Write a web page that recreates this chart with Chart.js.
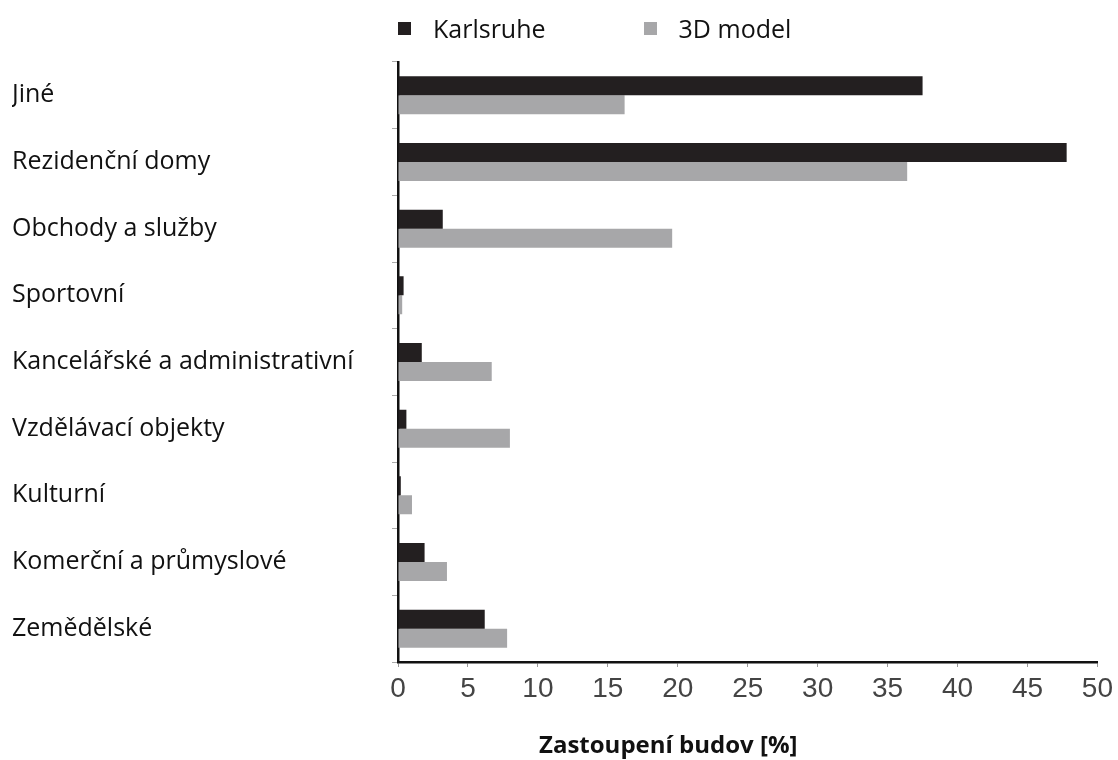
<!DOCTYPE html>
<html>
<head>
<meta charset="utf-8">
<script src="https://cdn.jsdelivr.net/npm/chart.js@4/dist/chart.umd.min.js"></script>
<style>
  body { margin: 0; background: #fff; }
  #wrap { position: relative; width: 1118px; height: 760px; }
  #legend { position: absolute; top: 11px; left: 398px; display: flex; font-family: "Open Sans", sans-serif; font-size: 25px; line-height: 34px; color: #111; }
  .item { display: flex; align-items: center; margin-right: 98px; }
  .box { width: 13px; height: 13px; margin-right: 22px; }
  #xtitle { position: absolute; top: 728px; left: 539px; font-family: "Open Sans", sans-serif; font-weight: bold; font-size: 24px; line-height: 32px; color: #111; }
</style>
</head>
<body>
<div id="wrap">
  <canvas id="chart" width="1118" height="760"></canvas>
  <div id="legend"></div>
  <div id="xtitle">Zastoupení budov [%]</div>
</div>
<script>
// kategorie (shora dolů)
const categories = ['Jiné', 'Rezidenční domy', 'Obchody a služby', 'Sportovní',
  'Kancelářské a administrativní', 'Vzdělávací objekty', 'Kulturní',
  'Komerční a průmyslové', 'Zemědělské'];

// hodnoty v %
const karlsruhe = [37.5, 47.8, 3.2, 0.4, 1.7, 0.6, 0.2, 1.9, 6.2];
const model3d   = [16.2, 36.4, 19.6, 0.3, 6.7, 8.0, 1.0, 3.5, 7.8];

const xTicks = [0, 5, 10, 15, 20, 25, 30, 35, 40, 45, 50];

const ctx = document.getElementById('chart').getContext('2d');
const chart = new Chart(ctx, {
  type: 'bar',
  data: {
    labels: categories,
    datasets: [
      { label: 'Karlsruhe', data: karlsruhe, backgroundColor: '#231f20' },
      { label: '3D model', data: model3d, backgroundColor: '#a7a7a9' }
    ]
  },
  options: {
    indexAxis: 'y',
    responsive: false,
    animation: false,
    layout: { padding: { left: 12, right: 18, top: 62, bottom: 0 } },
    datasets: { bar: { categoryPercentage: 0.57, barPercentage: 1.0 } },
    plugins: { legend: { display: false }, tooltip: { enabled: false } },
    scales: {
      y: {
        afterFit: (s) => { s.width = 386; },
        grid: { drawOnChartArea: false, tickLength: 6, color: '#aaaaaa' },
        border: { color: '#111', width: 2.5 },
        ticks: {
          crossAlign: 'far',
          color: '#111',
          font: { family: '"Open Sans", sans-serif', size: 25 }
        }
      },
      x: {
        min: 0,
        max: 50,
        afterFit: (s) => { s.height = 98; },
        afterBuildTicks: (s) => { s.ticks = xTicks.map(v => ({ value: v })); },
        grid: { drawOnChartArea: false, tickLength: 5, color: '#999' },
        border: { color: '#111', width: 2.5 },
        ticks: {
          color: '#444',
          padding: 5,
          font: { family: '"Liberation Sans", Arial, sans-serif', size: 28 }
        }
      }
    }
  }
});

// legenda jako HTML
const legend = document.getElementById('legend');
chart.data.datasets.forEach(ds => {
  const it = document.createElement('div');
  it.className = 'item';
  const b = document.createElement('span');
  b.className = 'box';
  b.style.background = ds.backgroundColor;
  const t = document.createElement('span');
  t.textContent = ds.label;
  it.appendChild(b);
  it.appendChild(t);
  legend.appendChild(it);
});
</script>
</body>
</html>
